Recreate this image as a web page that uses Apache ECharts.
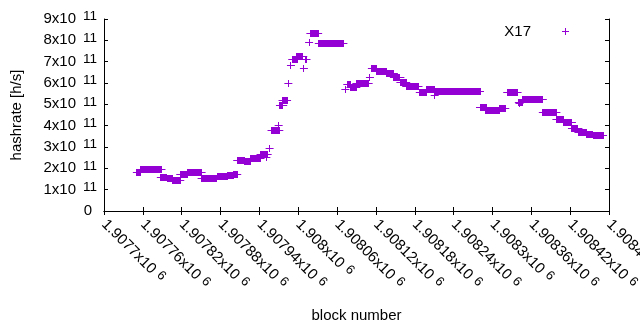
<!DOCTYPE html>
<html>
<head>
<meta charset="utf-8">
<script src="https://cdn.jsdelivr.net/npm/echarts@6/dist/echarts.min.js"></script>
<style>
  html, body { margin: 0; padding: 0; background: #fff; }
  #chart { width: 640px; height: 330px; }
</style>
</head>
<body>
<div id="chart"></div>
<script>
// runs of consecutive blocks with the same hashrate (single points have start == end)
var runStart = [1907750, 1907756, 1907787, 1907797, 1907805, 1907817, 1907828, 1907850, 1907874, 1907890,
  1907899, 1907905, 1907916, 1907926, 1907941, 1907950, 1907952, 1907955, 1907958, 1907969,
  1907971, 1907975, 1907984, 1907988, 1907990, 1907997, 1908008, 1908010, 1908016, 1908018,
  1908031, 1908072, 1908075, 1908080, 1908089, 1908110, 1908113, 1908120, 1908136, 1908147,
  1908157, 1908166, 1908187, 1908198, 1908210, 1908211, 1908280, 1908289, 1908310, 1908322,
  1908341, 1908340, 1908346, 1908377, 1908398, 1908409, 1908422, 1908432, 1908445, 1908455];
var runEnd = [1907756, 1907788, 1907797, 1907805, 1907817, 1907828, 1907850, 1907873, 1907890, 1907899,
  1907905, 1907916, 1907926, 1907941, 1907950, 1907950, 1907952, 1907955, 1907970, 1907969,
  1907976, 1907982, 1907984, 1907988, 1907997, 1908007, 1908008, 1908012, 1908016, 1908030,
  1908069, 1908072, 1908080, 1908089, 1908108, 1908110, 1908120, 1908136, 1908147, 1908157,
  1908166, 1908185, 1908198, 1908211, 1908210, 1908280, 1908289, 1908310, 1908319, 1908338,
  1908341, 1908346, 1908377, 1908398, 1908409, 1908422, 1908432, 1908445, 1908455, 1908470];
// hashrate in units of 10^11 h/s
var runRate = [1.83, 1.95, 1.58, 1.53, 1.47, 1.74, 1.82, 1.56, 1.63, 1.67,
  1.74, 2.41, 2.35, 2.47, 2.65, 2.55, 2.68, 2.94, 3.79, 4.04,
  4.95, 5.2, 6.0, 6.85, 7.12, 7.28, 6.7, 7.12, 7.92, 8.34,
  7.87, 5.71, 5.96, 5.8, 6.0, 6.28, 6.68, 6.57, 6.46, 6.27,
  6.07, 5.84, 5.57, 5.73, 5.45, 5.63, 4.88, 4.73, 4.82, 5.57,
  5.06, 5.12, 5.24, 4.63, 4.31, 4.15, 3.90, 3.69, 3.62, 3.54];

var xMin = 1907700, xMax = 1908480, xStep = 60;
var yMin = 0, yMax = 9e11, yStep = 1e11;

var purple = '#9400d3';
var font = 'Liberation Sans, Arial, sans-serif';

var runs = runStart.map(function (s, i) {
  return [s, runEnd[i], runRate[i] * 1e11];
});

function renderRun(params, api) {
  var a = api.coord([api.value(0), api.value(2)]);
  var b = api.coord([api.value(1), api.value(2)]);
  var y = Math.round(a[1]);
  return {
    type: 'group',
    children: [
      { type: 'rect', shape: { x: Math.round(a[0]), y: y - 3, width: Math.max(1, Math.round(b[0] - a[0]) + 1), height: 7 },
        style: { fill: purple } },
      { type: 'line', shape: { x1: a[0] - 3.5, y1: y + 0.5, x2: b[0] + 4.5, y2: y + 0.5 },
        style: { stroke: purple, lineWidth: 1 } }
    ]
  };
}

function xLabel(v) {
  return '{b|' + parseFloat((v / 1e6).toFixed(5)) + 'x10}{s|6}';
}
function yLabel(v) {
  if (v === 0) return '{z|0}';
  return '{b|' + Math.round(v / 1e11) + 'x10}{s|11}';
}

var rich = {
  b: { fontSize: 15, fontFamily: font, color: '#000' },
  s: { fontSize: 13.5, fontFamily: font, color: '#000', padding: [0, 0, 5, 7] },
  z: { fontSize: 15, fontFamily: font, color: '#000', padding: [0, 5, 0, 0] }
};
var richX = {
  b: { fontSize: 15, fontFamily: font, color: '#000' },
  s: { fontSize: 13, fontFamily: font, color: '#000', padding: [0, 0, 5, 5] }
};

var chart = echarts.init(document.getElementById('chart'));
chart.setOption({
  animation: false,
  color: [purple],
  textStyle: { fontFamily: font },
  grid: { left: 104, right: 31, top: 19, bottom: 119, containLabel: false, outerBoundsMode: 'none' },
  legend: {
    data: [{ name: 'X17', icon: 'path://M0,3h7v1h-7zM3,0h1v7h-1z' }],
    right: 66,
    top: 19,
    align: 'right',
    itemWidth: 7,
    itemHeight: 7,
    textStyle: { fontSize: 15, fontFamily: font, color: '#000', padding: [0, 26, 0, 0] }
  },
  xAxis: [{
    type: 'value',
    min: xMin, max: xMax, interval: xStep,
    name: 'block number',
    nameLocation: 'middle',
    nameGap: 97,
    nameTextStyle: { fontSize: 15, fontFamily: font, color: '#000' },
    axisLine: { show: true, lineStyle: { color: '#000', width: 1 } },
    axisTick: { show: true, inside: true, length: 4, lineStyle: { color: '#000' } },
    axisLabel: { rotate: -45, margin: 11, formatter: xLabel, rich: richX, hideOverlap: false, showMaxLabel: true },
    splitLine: { show: false }
  }, {
    type: 'value',
    position: 'top',
    min: xMin, max: xMax, interval: xStep,
    axisLine: { show: true, lineStyle: { color: '#000', width: 1 } },
    axisTick: { show: true, inside: true, length: 4, lineStyle: { color: '#000' } },
    axisLabel: { show: false },
    splitLine: { show: false }
  }],
  yAxis: [{
    type: 'value',
    min: yMin, max: yMax, interval: yStep,
    name: 'hashrate [h/s]',
    nameLocation: 'middle',
    nameGap: 80,
    nameRotate: 90,
    nameTextStyle: { fontSize: 15, fontFamily: font, color: '#000' },
    axisLine: { show: true, lineStyle: { color: '#000', width: 1 } },
    axisTick: { show: true, inside: true, length: 4, lineStyle: { color: '#000' } },
    axisLabel: { margin: 7, formatter: yLabel, rich: rich, fontSize: 15, color: '#000' },
    splitLine: { show: false }
  }, {
    type: 'value',
    position: 'right',
    min: yMin, max: yMax, interval: yStep,
    axisLine: { show: true, lineStyle: { color: '#000', width: 1 } },
    axisTick: { show: true, inside: true, length: 4, lineStyle: { color: '#000' } },
    axisLabel: { show: false },
    splitLine: { show: false }
  }],
  series: [{
    name: 'X17',
    type: 'custom',
    renderItem: renderRun,
    encode: { x: [0, 1], y: 2 },
    itemStyle: { color: purple },
    clip: true,
    data: runs
  }]
});
</script>
</body>
</html>
